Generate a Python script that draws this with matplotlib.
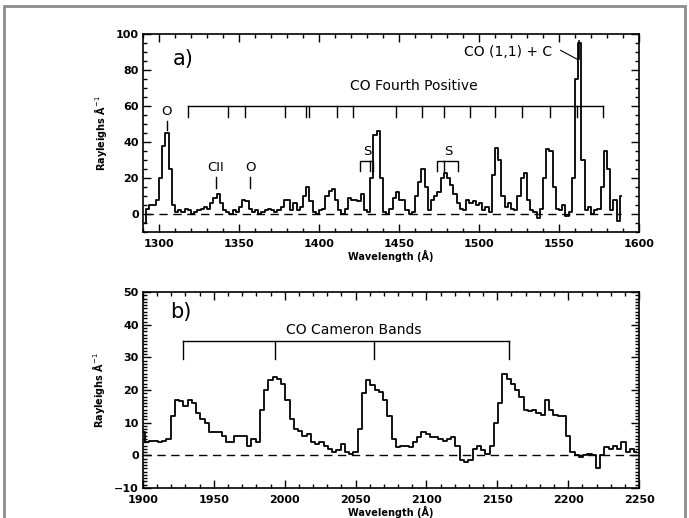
import matplotlib
matplotlib.use("Agg")
import matplotlib.pyplot as plt
from matplotlib.patches import Rectangle
from matplotlib.ticker import MultipleLocator
import numpy as np

# Panel a: far-UV spectrum, 2 A bins starting at 1291 A
fuv_start = 1291
fuv_step = 2
fuv_flux = [
    -5, 3, 5, 5, 8, 20, 38, 45, 25, 5,
    1, 2, 1, 3, 2, 0, 1, 2, 3, 4,
    3, 6, 9, 11, 6, 2, 1, 0, 2, 1,
    4, 8, 7, 3, 1, 2, 0, 1, 2, 3,
    2, 1, 2, 4, 8, 8, 2, 6, 2, 4,
    10, 15, 7, 1, 0, 2, 3, 10, 13, 14,
    8, 2, 0, 3, 9, 8, 8, 7, 11, 2,
    1, 20, 44, 46, 20, 1, 0, 3, 9, 12,
    8, 8, 2, 0, 1, 10, 18, 25, 15, 2,
    8, 10, 12, 20, 23, 20, 16, 11, 6, 3,
    2, 8, 6, 7, 5, 6, 2, 4, 1, 22,
    37, 30, 10, 4, 6, 3, 2, 10, 20, 23,
    8, 2, 1, -2, 3, 20, 36, 35, 15, 3,
    2, 5, -1, 1, 20, 75, 95, 30, 2, 4,
    0, 2, 3, 15, 35, 25, 2, 8, -4, 10,
]

# Panel b: mid-UV spectrum, 3 A bins starting at 1900 A
muv_start = 1900
muv_step = 3
muv_flux = [
    7, 4, 4.5, 4.5, 4, 4.5, 5, 12, 17, 16.5,
    15, 17, 16, 13, 11, 10, 7, 7, 7, 6,
    4, 4, 6, 6, 6, 3, 5, 4, 14, 20,
    23, 24, 23.5, 22, 17, 11, 8, 7.5, 6, 6.5,
    4, 3.5, 4, 3, 2, 1, 1.5, 3.5, 1, 0.5,
    1, 8, 19, 23, 21.5, 20, 19.5, 17, 12, 5,
    2.5, 3, 3, 2.5, 4, 5.5, 7, 6.5, 5.5, 5.5,
    5, 4.5, 5, 5.5, 3, -1.5, -2, -1.5, 2, 3,
    1.5, 0.5, 3, 10, 16, 25, 23.5, 22, 20, 18,
    14, 13.5, 14, 13, 12.5, 17, 14, 12.5, 12, 12,
    6, 1, 0, -0.5, 0, 0.5, 0, -4, 0, 2.5,
    2, 3, 2, 4, 1, 2, 1,
]

# CO Fourth Positive band heads and bracket level
co4p_bands = [1318, 1343, 1354, 1379, 1392, 1394, 1411.5, 1421,
              1448, 1464.5, 1478, 1494.5, 1510, 1527, 1544.5, 1561, 1577.5]
co4p_level = 60
# CO Cameron band heads and bracket level
cam_bands = [1928, 1993, 2063, 2158]
cam_level = 35

plt.rcParams["font.family"] = "DejaVu Sans"
fig = plt.figure(figsize=(6.89, 5.18), dpi=100)

# light grey frame around the figure
fig.patches.append(Rectangle((0.006, -0.01), 0.988, 0.999, transform=fig.transFigure,
                             fill=False, edgecolor="#8c8c8c", linewidth=2))

ax1 = fig.add_axes([0.2075, 0.552, 0.720, 0.382])
ax2 = fig.add_axes([0.2075, 0.058, 0.720, 0.378])


def style_axis(ax, xminor, yminor):
    ax.xaxis.set_minor_locator(MultipleLocator(xminor))
    ax.yaxis.set_minor_locator(MultipleLocator(yminor))
    ax.tick_params(which="both", direction="in", top=True, right=True,
                   width=1, labelsize=8)
    ax.tick_params(axis="x", pad=5)
    ax.tick_params(axis="y", pad=3)
    ax.tick_params(which="major", length=6)
    ax.tick_params(which="minor", length=3)
    for lab in ax.get_xticklabels() + ax.get_yticklabels():
        lab.set_fontweight("bold")
    for sp in ax.spines.values():
        sp.set_linewidth(1.2)


# ---- panel a ----
wl_a = fuv_start + fuv_step * np.arange(len(fuv_flux))
ax1.step(wl_a, fuv_flux, where="mid", color="black", lw=1.3)
ax1.plot([wl_a[0], wl_a[-1]], [0, 0], ls=(0, (6, 4)), color="black", lw=1)
ax1.set_xlim(1290, 1600)
ax1.set_ylim(-10, 100)
ax1.xaxis.set_major_locator(MultipleLocator(50))
ax1.yaxis.set_major_locator(MultipleLocator(20))
style_axis(ax1, 10, 5)
ax1.set_xlabel("Wavelength (Å)", fontsize=7, fontweight="bold", labelpad=1)
ax1.set_ylabel("Rayleighs Å$^{-1}$", fontsize=7, fontweight="bold", labelpad=5)

ax1.plot([co4p_bands[0], co4p_bands[-1]], [co4p_level, co4p_level], color="black", lw=1)
for b in co4p_bands:
    ax1.plot([b, b], [co4p_level, co4p_level - 6], color="black", lw=1)
ax1.text(1459, 71, "CO Fourth Positive", ha="center", va="center", fontsize=10)
ax1.text(1315, 86, "a)", ha="center", va="center", fontsize=15)

# atomic lines
for x, lab, lo, hi, ty in [(1305, "O", 47, 52, 57),
                           (1335.5, "CII", 14.5, 20.5, 26),
                           (1357, "O", 14.5, 20.5, 26)]:
    ax1.plot([x, x], [lo, hi], color="black", lw=1)
    ax1.text(x, ty, lab, ha="center", va="center", fontsize=9.5)

# sulphur brackets
ax1.plot([1425.5, 1425.5, 1434, 1434], [24, 29.5, 29.5, 24], color="black", lw=1)
ax1.plot([1432, 1432], [29.5, 24], color="black", lw=1)
ax1.text(1430, 35, "S", ha="center", va="center", fontsize=9.5)
ax1.plot([1474, 1474, 1487, 1487], [24, 29.5, 29.5, 24], color="black", lw=1)
ax1.plot([1478, 1478], [29.5, 24], color="black", lw=1)
ax1.text(1481, 35, "S", ha="center", va="center", fontsize=9.5)

ax1.text(1518, 90, "CO (1,1) + C", ha="center", va="center", fontsize=10)
ax1.plot([1551, 1561.5], [91, 86], color="black", lw=0.8)
ax1.plot([1562.5, 1562.5], [86, 96], color="black", lw=1.2)

# ---- panel b ----
wl_b = muv_start + muv_step * np.arange(len(muv_flux))
ax2.step(wl_b, muv_flux, where="mid", color="black", lw=1.3)
ax2.axhline(0, ls=(0, (6, 4)), color="black", lw=1)
ax2.set_xlim(1900, 2250)
ax2.set_ylim(-10, 50)
ax2.xaxis.set_major_locator(MultipleLocator(50))
ax2.yaxis.set_major_locator(MultipleLocator(10))
style_axis(ax2, 10, 1)
ax2.set_xlabel("Wavelength (Å)", fontsize=7, fontweight="bold", labelpad=1)
ax2.set_ylabel("Rayleighs Å$^{-1}$", fontsize=7, fontweight="bold", labelpad=5)

ax2.plot([cam_bands[0], cam_bands[-1]], [cam_level, cam_level], color="black", lw=1)
for b in cam_bands:
    ax2.plot([b, b], [cam_level, cam_level - 5.5], color="black", lw=1)
ax2.text(2049, 38.5, "CO Cameron Bands", ha="center", va="center", fontsize=10)
ax2.text(1927, 44, "b)", ha="center", va="center", fontsize=15)

fig.savefig("out.png", dpi=100)
